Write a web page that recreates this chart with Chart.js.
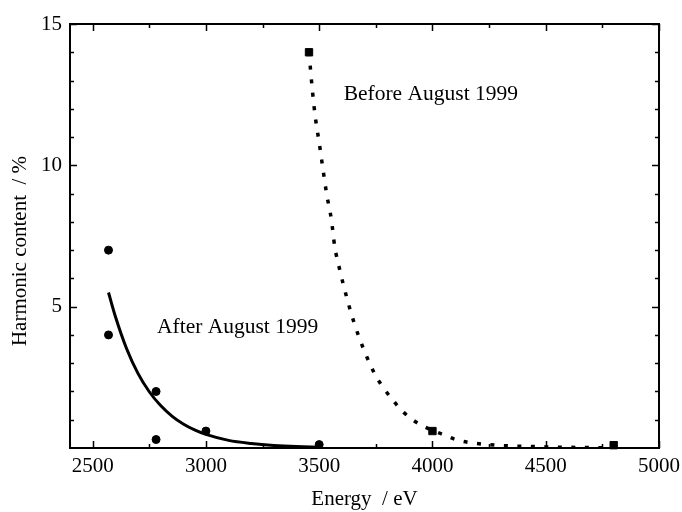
<!DOCTYPE html>
<html>
<head>
<meta charset="utf-8">
<script src="https://cdn.jsdelivr.net/npm/chart.js@4/dist/chart.umd.min.js"></script>
<style>
  html, body { margin: 0; padding: 0; background: #ffffff; }
  canvas { display: block; }
</style>
</head>
<body>
<canvas id="c" width="682" height="512"></canvas>
<script>
// ---- data ----
const afterX = [2570, 2570, 2780, 2780, 3000, 3500];
const afterY = [7.0, 4.0, 2.0, 0.3, 0.6, 0.12];
const beforeX = [3455, 4000, 4800];
const beforeY = [14.0, 0.6, 0.1];

const afterFitX = [2570, 2600, 2650, 2700, 2750, 2800, 2850, 2900, 2950, 3000, 3100, 3200, 3300, 3400, 3500];
const afterFitY = [5.5, 4.66, 3.51, 2.64, 1.99, 1.5, 1.13, 0.85, 0.64, 0.48, 0.27, 0.16, 0.09, 0.05, 0.03];

const beforeFitX = [3455, 3470, 3483, 3500, 3516, 3533, 3554, 3568, 3593, 3621, 3654, 3695, 3745, 3779, 3823, 3873, 3931, 4000, 4046, 4102, 4157, 4250, 4350, 4450, 4550, 4650, 4770];
const beforeFitY = [14.0, 12.65, 11.7, 10.8, 9.9, 8.98, 8.07, 7.16, 6.23, 5.34, 4.43, 3.52, 2.62, 2.18, 1.71, 1.26, 0.9, 0.62, 0.48, 0.3, 0.2, 0.12, 0.07, 0.05, 0.03, 0.02, 0.01];

const xTickLabels = [2500, 3000, 3500, 4000, 4500, 5000];
const yTickLabels = [5, 10, 15];
const xMinorTicks = [2750, 3250, 3750, 4250, 4750];
const yMinorTicks = [1, 2, 3, 4, 6, 7, 8, 9, 11, 12, 13, 14];

const xTitle = 'Energy  / eV';
const yTitle = 'Harmonic content  / %';
const labelBefore = 'Before August 1999';
const labelAfter = 'After August 1999';

// ---- styling ----
const FONT = 'Liberation Serif, Times New Roman, serif';
const INK = '#000000';
const textPos = {
  before: { x: 3608, y: 12.32 },
  after: { x: 2784, y: 4.07 }
};

function pts(xs, ys) { return xs.map((x, i) => ({ x: x, y: ys[i] })); }

const framePlugin = {
  id: 'frame',
  afterDraw(chart) {
    const { ctx, chartArea: a, scales: { x, y } } = chart;
    ctx.save();
    ctx.strokeStyle = INK;
    ctx.lineWidth = 2;
    ctx.strokeRect(a.left, a.top, a.right - a.left, a.bottom - a.top);
    ctx.lineWidth = 1.5;
    ctx.beginPath();
    const xt = (v, len) => {
      const px = Math.round(x.getPixelForValue(v)) + 0.5;
      ctx.moveTo(px, a.bottom); ctx.lineTo(px, a.bottom - len);
      ctx.moveTo(px, a.top); ctx.lineTo(px, a.top + len);
    };
    const yt = (v, len) => {
      const py = Math.round(y.getPixelForValue(v)) + 0.5;
      ctx.moveTo(a.left, py); ctx.lineTo(a.left + len, py);
      ctx.moveTo(a.right, py); ctx.lineTo(a.right - len, py);
    };
    xTickLabels.forEach(v => xt(v, 7));
    xMinorTicks.forEach(v => xt(v, 4));
    yTickLabels.forEach(v => yt(v, 7));
    yMinorTicks.forEach(v => yt(v, 4));
    ctx.stroke();

    // annotations
    ctx.fillStyle = INK;
    ctx.font = '21.5px ' + FONT;
    ctx.textAlign = 'left';
    ctx.textBaseline = 'alphabetic';
    ctx.fillText(labelBefore, x.getPixelForValue(textPos.before.x), y.getPixelForValue(textPos.before.y));
    ctx.fillText(labelAfter, x.getPixelForValue(textPos.after.x), y.getPixelForValue(textPos.after.y));

    // y axis title
    ctx.font = '21px ' + FONT;
    ctx.translate(20, (a.top + a.bottom) / 2 + 15);
    ctx.rotate(-Math.PI / 2);
    ctx.textAlign = 'center';
    ctx.textBaseline = 'middle';
    ctx.fillText(yTitle, 0, 0);
    ctx.restore();
  }
};

new Chart(document.getElementById('c'), {
  data: {
    datasets: [
      {
        type: 'line', label: 'After fit', data: pts(afterFitX, afterFitY),
        borderColor: INK, borderWidth: 3, pointRadius: 0, fill: false,
        cubicInterpolationMode: 'monotone'
      },
      {
        type: 'line', label: 'Before fit', data: pts(beforeFitX, beforeFitY),
        borderColor: INK, borderWidth: 3.5, borderDash: [4, 9.5], pointRadius: 0, fill: false,
        cubicInterpolationMode: 'monotone'
      },
      {
        type: 'scatter', label: labelAfter, data: pts(afterX, afterY),
        pointStyle: 'circle', pointRadius: 4, borderWidth: 1,
        backgroundColor: INK, borderColor: INK, clip: false
      },
      {
        type: 'scatter', label: labelBefore, data: pts(beforeX, beforeY),
        pointStyle: 'rect', pointRadius: 5.2, borderWidth: 1,
        backgroundColor: INK, borderColor: INK, clip: false
      }
    ]
  },
  options: {
    responsive: false,
    animation: false,
    devicePixelRatio: 1,
    layout: { padding: { top: 24, right: 23, left: 0, bottom: 0 } },
    plugins: { legend: { display: false }, tooltip: { enabled: false } },
    scales: {
      x: {
        type: 'linear', min: 2400, max: 5000,
        grid: { display: false, drawTicks: false },
        border: { display: false },
        afterBuildTicks: s => { s.ticks = xTickLabels.map(v => ({ value: v })); },
        afterFit: s => { s.height = 64; s.paddingLeft = 0; s.paddingRight = 0; },
        ticks: { padding: 6, color: INK, font: { family: FONT, size: 21 }, maxRotation: 0, autoSkip: false, callback: v => String(v) },
        title: { display: true, text: xTitle, color: INK, font: { family: FONT, size: 21 }, padding: { top: 0, bottom: 0 } }
      },
      y: {
        type: 'linear', min: 0, max: 15,
        grid: { display: false, drawTicks: false },
        border: { display: false },
        afterBuildTicks: s => { s.ticks = yTickLabels.map(v => ({ value: v })); },
        afterFit: s => { s.width = 70; s.paddingTop = 0; s.paddingBottom = 0; },
        ticks: { padding: 8, color: INK, font: { family: FONT, size: 21 }, autoSkip: false, callback: v => String(v) }
      }
    }
  },
  plugins: [framePlugin]
});
</script>
</body>
</html>
